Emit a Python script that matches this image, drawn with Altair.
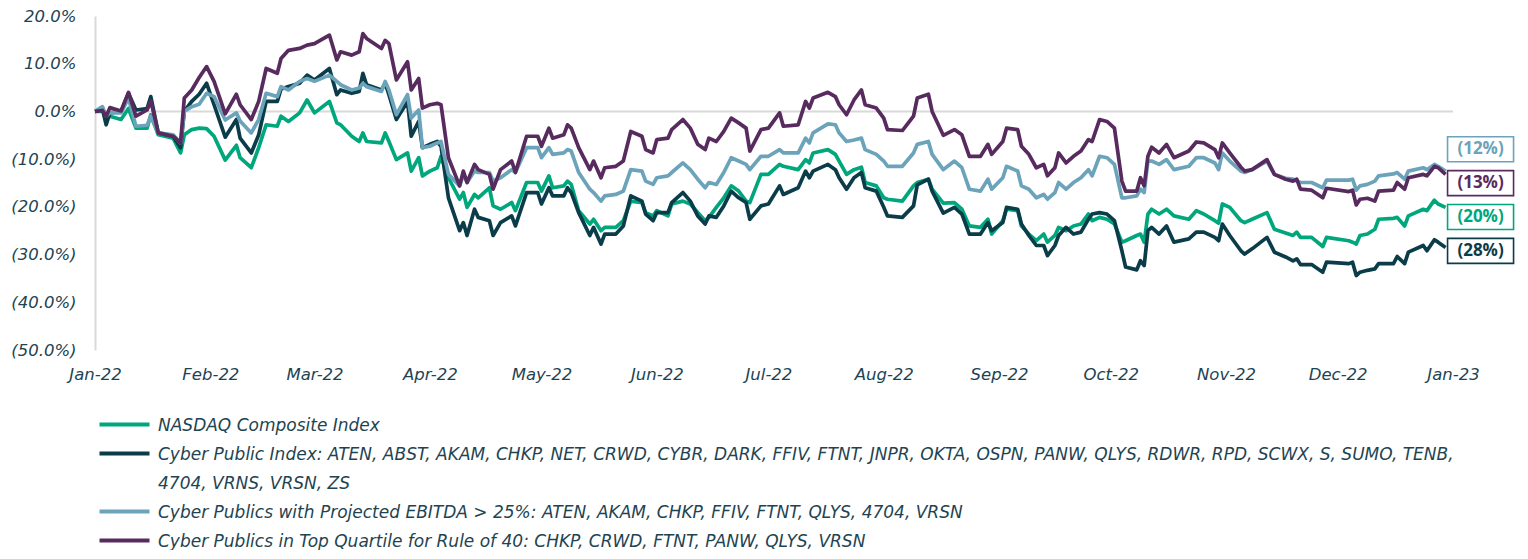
import altair as alt
import pandas as pd

# ---------------- data ----------------
series_names = [
    "NASDAQ Composite Index",
    "Cyber Public Index: ATEN, ABST, AKAM, CHKP, NET, CRWD, CYBR, DARK, FFIV, FTNT, JNPR, OKTA, OSPN, PANW, QLYS, RDWR, RPD, SCWX, S, SUMO, TENB,|4704, VRNS, VRSN, ZS",
    "Cyber Publics with Projected EBITDA > 25%: ATEN, AKAM, CHKP, FFIV, FTNT, QLYS, 4704, VRSN",
    "Cyber Publics in Top Quartile for Rule of 40: CHKP, CRWD, FTNT, PANW, QLYS, VRSN",
]
series_colors = ["#00a67c", "#0b3c49", "#6aa3ba", "#582b5f"]
end_labels = ["(20%)", "(28%)", "(12%)", "(13%)"]
# wrapped continuation of the second legend label (shown as its own legend row)
legend_continuation = "4704, VRNS, VRSN, ZS"

# days since 2022-01-01
day_offsets = [
    0, 2, 3, 4, 7, 9, 11, 14, 15, 17,
    21, 23, 24, 26, 28, 30, 32, 35, 38, 39,
    42, 44, 46, 49, 50, 52, 55, 57, 59, 63,
    65, 66, 69, 71, 72, 73, 77, 78, 79, 81,
    84, 85, 87, 88, 90, 92, 93, 95, 98, 99,
    100, 102, 103, 106, 107, 109, 112, 113, 116, 119,
    120, 122, 123, 126, 127, 128, 130, 133, 134, 136,
    137, 140, 142, 144, 147, 148, 150, 151, 154, 155,
    158, 160, 162, 164, 165, 167, 169, 171, 173, 175,
    176, 179, 181, 184, 185, 189, 191, 192, 193, 197,
    199, 200, 202, 204, 206, 207, 210, 212, 213, 217,
    220, 221, 224, 225, 228, 231, 233, 235, 238, 240,
    241, 244, 245, 248, 249, 251, 253, 255, 256, 258,
    259, 261, 263, 265, 267, 268, 270, 272, 274, 276,
    277, 280, 281, 282, 283, 284, 286, 288, 290, 294,
    296, 298, 301, 302, 303, 305, 308, 309, 311, 315,
    317, 320, 322, 323, 324, 327, 330, 331, 337, 338,
    339, 340, 342, 344, 345, 349, 350, 352, 353, 357,
    358, 360, 361, 363,
]

nasdaq = [
    0, 0.0, -1.0, -1.0, -1.7, 0.6, -3.5, -3.5, -0.7, -4.9,
    -5.6, -8.7, -4.9, -3.8, -3.5, -3.6, -5.2, -10.2, -7.1, -9.7,
    -11.8, -7.6, -2.8, -3.1, -1.0, -2.1, -0.3, 2.4, -0.3, 2.1,
    -2.4, -2.8, -5.2, -6.3, -4.5, -6.3, -6.6, -4.5, -6.3, -10.1,
    -8.7, -12.5, -9.7, -13.5, -12.5, -11.8, -9.4, -13.9, -18.4, -17.0,
    -20.1, -17.4, -18.1, -16.0, -19.8, -20.5, -19.1, -20.8, -14.9, -14.9,
    -16.7, -13.5, -16.0, -15.6, -14.6, -15.3, -20.8, -23.6, -22.6, -25.0,
    -24.3, -24.3, -22.9, -18.8, -19.1, -21.2, -21.9, -20.8, -21.9, -19.4,
    -18.8, -19.4, -21.2, -22.9, -22.2, -20.1, -18.1, -15.6, -16.7, -18.8,
    -19.1, -13.2, -13.2, -11.1, -11.5, -12.2, -10.1, -10.8, -8.7, -8.0,
    -9.0, -10.4, -13.2, -12.2, -11.7, -14.9, -15.6, -18.1, -18.4, -18.8,
    -15.6, -14.9, -14.2, -16.3, -19.2, -19.1, -20.5, -24.0, -24.3, -22.6,
    -25.7, -22.9, -20.5, -20.8, -24.0, -25.7, -27.1, -25.7, -27.4, -26.0,
    -24.3, -25.0, -24.0, -23.6, -21.5, -22.9, -22.2, -22.6, -23.6, -27.4,
    -27.1, -26.0, -25.7, -27.4, -21.5, -20.5, -21.5, -20.5, -21.9, -22.6,
    -20.8, -21.5, -22.9, -23.4, -19.4, -20.1, -22.9, -23.3, -22.6, -21.2,
    -24.7, -25.5, -26.0, -25.3, -26.4, -26.4, -28.3, -26.4, -27.1, -27.4,
    -27.8, -26.0, -25.7, -24.7, -22.6, -22.4, -22.2, -24.0, -21.9, -20.5,
    -20.8, -18.6, -19.4, -20.1,
]

cyber_index = [
    0, 0.5, -2.8, -0.3, 0.0, 3.8, 0.3, 0.6, 3.1, -4.5,
    -5.2, -7.6, 0.0, 2.1, 3.6, 5.9, 1.4, -5.4, -1.7, -5.6,
    -8.7, -4.9, 2.1, 2.1, 4.7, 5.2, 5.9, 7.6, 6.6, 9.0,
    3.5, 4.5, 3.8, 4.2, 8.0, 5.6, 4.5, 5.9, 3.5, -1.7,
    2.1, -5.2, -2.1, -7.6, -6.9, -6.3, -7.3, -18.1, -25.0, -23.3,
    -26.0, -20.5, -22.2, -22.9, -26.0, -23.3, -21.9, -24.0, -17.0, -17.0,
    -19.4, -16.0, -17.7, -17.7, -16.0, -17.0, -21.2, -26.0, -24.3, -27.8,
    -25.7, -25.7, -24.0, -17.7, -18.8, -21.5, -22.9, -21.2, -21.2, -19.1,
    -17.0, -18.8, -21.9, -23.6, -21.9, -22.2, -19.8, -16.7, -18.1, -19.1,
    -22.6, -19.8, -19.4, -15.6, -17.4, -16.0, -12.5, -13.9, -12.5, -11.1,
    -12.2, -13.9, -16.3, -13.9, -12.8, -16.0, -16.7, -20.1, -21.9, -22.2,
    -19.8, -15.4, -14.2, -16.7, -21.3, -20.1, -21.5, -25.7, -25.7, -23.3,
    -25.0, -23.3, -20.1, -20.5, -23.6, -26.0, -28.1, -28.1, -30.2, -28.1,
    -26.0, -24.3, -25.7, -25.3, -22.6, -21.5, -21.2, -21.5, -22.9, -29.2,
    -32.6, -33.2, -31.3, -32.3, -25.0, -24.3, -25.7, -24.0, -27.4, -26.7,
    -25.3, -25.3, -26.4, -27.1, -23.6, -26.0, -29.2, -29.9, -28.8, -26.4,
    -29.5, -30.5, -31.3, -30.9, -32.1, -32.1, -33.7, -31.6, -31.9, -31.6,
    -34.4, -33.7, -33.3, -33.0, -31.9, -31.9, -30.4, -31.9, -29.5, -28.1,
    -29.2, -26.9, -27.4, -28.5,
]

ebitda = [
    0, 1.0, -1.0, -0.3, -0.3, 2.8, -3.1, -2.9, -1.0, -4.5,
    -4.9, -6.6, 0.0, 1.0, 1.5, 3.8, 3.1, -1.8, -0.3, -2.0,
    -4.5, -1.7, 3.8, 3.1, 5.2, 4.5, 6.3, 6.9, 6.3, 7.6,
    6.3, 5.6, 4.5, 4.9, 5.9, 5.2, 4.2, 6.3, 4.5, -0.7,
    3.5, -1.4, 0.3, -7.6, -7.3, -6.6, -6.3, -13.2, -15.6, -13.2,
    -14.9, -12.5, -12.8, -12.8, -14.6, -13.9, -12.2, -12.8, -7.6, -7.6,
    -9.7, -7.6, -9.0, -8.7, -8.0, -8.3, -12.8, -16.3, -17.0, -18.8,
    -17.7, -17.4, -16.7, -12.2, -12.5, -14.6, -15.3, -13.9, -13.5, -12.8,
    -10.8, -12.2, -14.2, -16.0, -14.9, -15.3, -12.8, -9.7, -10.4, -11.1,
    -12.2, -9.4, -9.4, -8.0, -8.7, -8.7, -5.6, -6.6, -4.5, -2.6,
    -2.8, -4.5, -6.3, -6.0, -5.6, -8.0, -9.0, -10.4, -11.5, -11.5,
    -8.7, -6.9, -6.3, -9.0, -12.2, -10.4, -11.8, -16.3, -16.7, -14.2,
    -16.3, -13.9, -11.5, -12.5, -15.6, -16.3, -18.1, -17.4, -18.4, -17.0,
    -14.9, -16.3, -14.9, -13.9, -12.2, -13.5, -9.4, -9.7, -11.1, -18.1,
    -18.1, -17.7, -16.3, -17.0, -10.4, -10.4, -11.1, -10.1, -12.2, -11.5,
    -9.7, -9.7, -10.8, -12.2, -8.7, -10.4, -12.5, -12.8, -12.2, -10.4,
    -13.2, -14.0, -14.2, -14.6, -14.9, -14.9, -16.0, -14.4, -14.4, -14.2,
    -16.5, -15.6, -15.3, -14.6, -13.5, -13.1, -12.8, -14.2, -12.5, -11.8,
    -12.2, -11.1, -11.5, -12.5,
]

rule_of_40 = [
    0, 0.2, -1.0, 0.8, 0.1, 4.0, -1.0, 0.3, 2.2, -4.5,
    -5.2, -6.6, 2.8, 4.5, 7.1, 9.4, 6.3, -0.5, 3.6, 1.4,
    -1.7, 2.1, 9.0, 8.0, 11.1, 12.8, 13.2, 13.9, 14.2, 16.0,
    10.8, 12.5, 11.8, 12.5, 16.3, 15.3, 13.2, 14.9, 14.2, 6.6,
    10.4, 4.5, 6.9, 0.7, 1.4, 1.7, 1.4, -9.7, -15.6, -12.5,
    -14.9, -11.1, -12.2, -13.2, -16.3, -12.2, -10.4, -12.8, -5.2, -5.2,
    -7.3, -3.5, -5.6, -4.9, -2.8, -3.5, -7.6, -12.2, -10.4, -13.9,
    -11.8, -11.5, -10.4, -4.2, -5.2, -8.0, -8.7, -5.9, -5.6, -3.8,
    -1.7, -3.5, -6.9, -8.0, -5.6, -6.3, -4.2, -1.4, -2.4, -3.5,
    -8.3, -3.8, -3.5, -0.3, -3.1, -2.8, 2.1, 0.7, 2.8, 4.0,
    3.1, 1.4, -0.7, 2.4, 4.5, 1.4, 0.7, -1.4, -3.8, -4.0,
    -1.0, 2.8, 3.6, 0.0, -5.0, -3.8, -4.9, -9.4, -9.4, -6.9,
    -9.0, -6.3, -3.5, -3.8, -7.3, -9.0, -11.8, -11.1, -13.5, -11.8,
    -8.7, -10.8, -9.4, -8.3, -5.9, -6.3, -1.7, -2.1, -3.5, -14.6,
    -16.7, -16.7, -13.9, -15.6, -9.4, -7.5, -8.7, -6.9, -9.7, -8.3,
    -6.4, -6.6, -8.0, -9.7, -6.6, -8.7, -11.7, -12.5, -12.2, -10.1,
    -13.2, -14.2, -14.6, -14.2, -16.3, -16.5, -18.1, -16.1, -16.8, -16.5,
    -19.6, -18.4, -18.2, -18.8, -16.7, -16.5, -14.9, -16.3, -13.9, -13.2,
    -13.5, -11.5, -11.8, -13.2,
]

y_ticks = [-50, -40, -30, -20, -10, 0, 10, 20]

# ---------------- tables ----------------
start = pd.Timestamp("2022-01-01")
dates = [start + pd.Timedelta(days=d) for d in day_offsets]
all_series = [nasdaq, cyber_index, ebitda, rule_of_40]

rows = []
for name, vals in zip(series_names, all_series):
    for dt, v in zip(dates, vals):
        rows.append({"date": dt, "series": name, "value": v})
df = pd.DataFrame(rows)

# end-of-line labels, spread evenly around the mean of the last values
last_vals = [s[-1] for s in all_series]
mean_last = sum(last_vals) / len(last_vals)
order = sorted(range(len(last_vals)), key=lambda i: -last_vals[i])
label_y = [0.0] * len(last_vals)
for rank, i in enumerate(order):
    label_y[i] = mean_last + (1.5 - rank) * 7.1
end_df = pd.DataFrame({
    "date": [dates[-1]] * len(series_names),
    "series": series_names,
    "label": end_labels,
    "label_y": label_y,
})
zero_df = pd.DataFrame({"value": [0]})

# ---------------- styling ----------------
FONT = "DejaVu Sans"
TXT = "#1e4452"
GRAY = "#d9d9d9"

x_scale = alt.Scale(domain=[alt.DateTime(year=2022, month=1, date=1),
                            alt.DateTime(year=2023, month=1, date=1)])
x_axis = alt.Axis(
    values=[alt.DateTime(year=2022, month=m, date=1) for m in range(1, 13)]
    + [alt.DateTime(year=2023, month=1, date=1)],
    format="%b-%y", labelFlush=False, labelOverlap=False, labelBound=False,
    domain=False, ticks=False, grid=False, labelPadding=16,
    labelFont=FONT, labelFontSize=16.5, labelFontStyle="italic", labelColor=TXT,
    title=None,
)
y_scale = alt.Scale(domain=[-50, 20], nice=False, zero=False)
y_axis = alt.Axis(
    values=y_ticks,
    labelExpr="datum.value < 0 ? '(' + format(-datum.value, '.1f') + '%)' : format(datum.value, '.1f') + '%'",
    domain=True, domainColor=GRAY, domainWidth=2, ticks=False, grid=False,
    labelPadding=19, labelFont=FONT, labelFontSize=16.5, labelFontStyle="italic",
    labelColor=TXT, title=None,
)

# legend rows: the four series plus the wrapped tail of the second label
legend_domain = series_names[:2] + [legend_continuation] + series_names[2:]
legend_range = series_colors[:2] + ["transparent"] + series_colors[2:]
color_scale = alt.Scale(domain=legend_domain, range=legend_range)

legend = alt.Legend(
    orient="none", legendX=22, legendY=393, direction="vertical", columns=1,
    title=None, padding=0,
    symbolType="M-13,3.5L12,3.5", symbolSize=16, symbolStrokeWidth=4,
    symbolOpacity=1,
    labelFont=FONT, labelFontSize=17, labelFontStyle="italic", labelColor=TXT,
    labelLimit=1400, labelOffset=24, labelBaseline="top",
    labelExpr="split(datum.label, '|')[0]",
    gridAlign="all", rowPadding=4,
)

zero_rule = alt.Chart(zero_df).mark_rule(color=GRAY, strokeWidth=2).encode(
    y=alt.Y("value:Q", scale=y_scale, axis=y_axis)
)

lines = alt.Chart(df).mark_line(strokeWidth=3.7, strokeJoin="round").encode(
    x=alt.X("date:T", scale=x_scale, axis=x_axis),
    y=alt.Y("value:Q", scale=y_scale, axis=y_axis),
    color=alt.Color("series:N", scale=color_scale, legend=legend),
)

box_path = "M-1.32,-0.5L1.32,-0.5L1.32,0.5L-1.32,0.5Z"
boxes = alt.Chart(end_df).mark_point(
    shape=box_path, size=2500, filled=False, strokeWidth=1.6, opacity=1, xOffset=35
).encode(
    x=alt.X("date:T", scale=x_scale, axis=x_axis),
    y=alt.Y("label_y:Q", scale=y_scale, axis=y_axis),
    color=alt.Color("series:N", scale=color_scale, legend=None),
)
texts = alt.Chart(end_df).mark_text(
    font="Open Sans", fontWeight="bold", fontSize=17, align="center",
    baseline="middle", xOffset=35,
).encode(
    x=alt.X("date:T", scale=x_scale, axis=x_axis),
    y=alt.Y("label_y:Q", scale=y_scale, axis=y_axis),
    text="label:N",
    color=alt.Color("series:N", scale=color_scale, legend=None),
)

chart = alt.layer(zero_rule, lines, boxes, texts).properties(
    width=1358, height=334,
    autosize=alt.AutoSizeParams(type="none"),
    padding={"left": 87, "top": 8, "right": 66, "bottom": 200},
    background="white",
).configure_view(stroke=None)

chart.save("out.html", embed_options={"renderer": "svg", "actions": False})
